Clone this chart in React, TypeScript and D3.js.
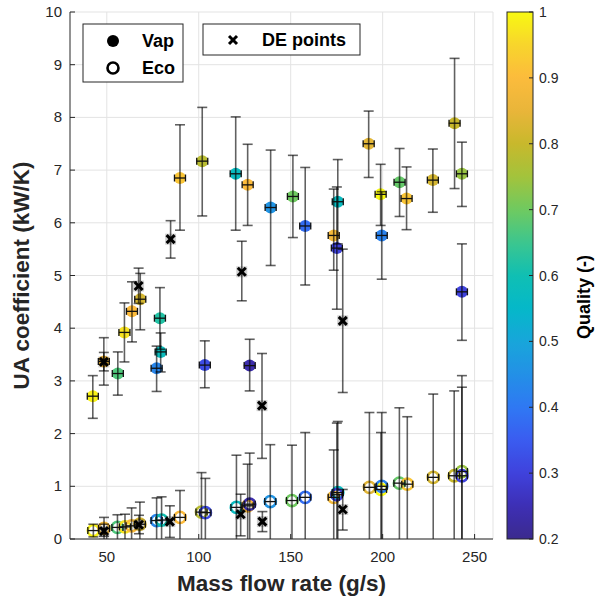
import React from "react";
import * as d3 from "d3";

// ---------- data ----------
const vapFlow = [42.4, 48.4, 56.0, 59.6, 63.7, 68.2, 77.1, 78.9, 79.3, 89.8, 101.9, 103.3, 120.1, 126.6, 127.7, 139.1, 151.2, 157.9, 173.4, 175.6, 175.1, 192.4, 198.9, 199.5, 209.2, 213.0, 227.3, 239.1, 243.1, 243.1];
const vapUA = [2.71, 3.37, 3.14, 3.92, 4.32, 4.55, 3.24, 4.19, 3.55, 6.85, 7.17, 3.30, 6.93, 6.72, 3.29, 6.29, 6.50, 5.94, 5.76, 6.40, 5.52, 7.50, 6.54, 5.76, 6.77, 6.46, 6.81, 7.89, 6.93, 4.69];
const vapLow = [2.29, 3.19, 2.73, 3.36, 3.74, 3.97, 2.80, 3.60, 3.17, 5.86, 6.13, 2.87, 5.86, 5.95, 2.81, 5.19, 5.72, 4.82, 5.10, 5.60, 4.36, 6.86, 5.95, 4.93, 6.12, 5.87, 6.20, 6.65, 6.31, 3.77];
const vapHigh = [3.10, 3.54, 3.55, 4.48, 4.88, 5.04, 3.66, 4.77, 3.91, 7.86, 8.19, 3.76, 8.01, 7.49, 3.79, 7.38, 7.28, 7.05, 6.64, 7.20, 6.68, 8.12, 7.11, 6.59, 7.41, 7.06, 7.40, 9.12, 7.53, 5.60];
const vapQuality = [0.99, 0.88, 0.67, 0.97, 0.9, 0.82, 0.43, 0.62, 0.58, 0.92, 0.78, 0.32, 0.57, 0.9, 0.24, 0.46, 0.7, 0.38, 0.88, 0.57, 0.3, 0.84, 1.0, 0.42, 0.69, 0.92, 0.82, 0.8, 0.74, 0.3];

const ecoFlow = [42.7, 48.5, 55.8, 59.9, 63.5, 68.0, 77.1, 79.8, 89.8, 101.5, 103.6, 120.5, 126.6, 127.7, 138.9, 150.7, 157.9, 173.4, 175.6, 175.1, 192.8, 199.1, 199.5, 209.1, 213.4, 227.5, 238.9, 243.1, 243.1];
const ecoUA = [0.16, 0.20, 0.22, 0.23, 0.25, 0.28, 0.35, 0.36, 0.41, 0.51, 0.50, 0.60, 0.63, 0.66, 0.71, 0.73, 0.79, 0.79, 0.88, 0.84, 0.98, 0.94, 1.00, 1.06, 1.04, 1.17, 1.20, 1.28, 1.20];
const ecoLow = [0.04, -0.01, -0.02, -0.01, -0.09, -0.14, -0.08, -0.08, -0.10, -0.24, -0.15, -0.39, -0.16, -0.31, -0.37, -0.32, -0.44, -0.11, -0.47, -0.52, -0.44, -0.14, -0.40, -0.37, -0.24, -0.41, -0.41, -0.54, -0.48];
const ecoHigh = [0.28, 0.41, 0.46, 0.47, 0.59, 0.70, 0.78, 0.80, 0.92, 1.26, 1.15, 1.59, 1.42, 1.63, 1.79, 1.78, 2.02, 1.69, 2.23, 2.20, 2.40, 2.02, 2.40, 2.49, 2.32, 2.75, 2.81, 3.10, 2.88];
const ecoQuality = [0.99, 0.88, 0.67, 0.97, 0.9, 0.82, 0.43, 0.6, 0.9, 0.78, 0.32, 0.57, 0.9, 0.24, 0.46, 0.7, 0.38, 0.88, 0.57, 0.3, 0.84, 1.0, 0.42, 0.69, 0.92, 0.82, 0.8, 0.74, 0.3];

const deFlow = [48.4, 67.3, 84.7, 123.4, 134.4, 178.3, 48.5, 67.5, 84.3, 122.8, 134.6, 178.3];
const deUA = [3.36, 4.80, 5.69, 5.07, 2.53, 4.14, 0.15, 0.27, 0.33, 0.47, 0.33, 0.56];
const deLow = [2.92, 4.47, 5.33, 4.52, 1.53, 2.78, 0.05, 0.10, 0.03, 0.06, 0.14, 0.17];
const deHigh = [3.82, 5.14, 6.04, 5.65, 3.52, 5.50, 0.28, 0.45, 0.63, 0.85, 0.52, 0.94];

const flowErr = 3;

const xTicks = [50, 100, 150, 200, 250];
const yTicks = [0, 1, 2, 3, 4, 5, 6, 7, 8, 9, 10];
const cTicks = [0.2, 0.3, 0.4, 0.5, 0.6, 0.7, 0.8, 0.9, 1];

const cmapStops = [0.2, 0.25, 0.3, 0.35, 0.4, 0.45, 0.5, 0.55, 0.6, 0.65, 0.7, 0.75, 0.8, 0.85, 0.9, 0.95, 1.0];
const cmapColors = ["#3b2a8e", "#3d2fb5", "#3f42dc", "#3a5cf0", "#2f78f3", "#2390e6", "#18a6da", "#05b8c9", "#10bfb3", "#3cc68f", "#6fca60", "#a3c33c", "#c8b82c", "#e9b53a", "#fcbb3c", "#f8d52c", "#f8f912"];

// ---------- layout ----------
const W = 603, H = 600;
const L = 70, R = 493, T = 12, B = 539;
const cbL = 507, cbR = 533;
const FONT = "'Liberation Sans', Arial, Helvetica, sans-serif";
const AX = "#262626";

export default function App() {
  const x = d3.scaleLinear().domain([30, 260]).range([L, R]);
  const y = d3.scaleLinear().domain([0, 10]).range([B, T]);
  const cy = d3.scaleLinear().domain([0.2, 1]).range([B, T]);
  const cmap = d3.scaleLinear<string>().domain(cmapStops).range(cmapColors).interpolate(d3.interpolateRgb).clamp(true);

  const gradStops = d3.range(0, 101).map((i) => {
    const q = 0.2 + (0.8 * i) / 100;
    return <stop key={i} offset={`${i}%`} stopColor={cmap(q)} />;
  });

  const errColor = "rgba(0,0,0,0.62)";

  const vBar = (fx: number, lo: number, hi: number, key: string) => (
    <g key={key} stroke={errColor} strokeWidth={1.6} fill="none">
      <line x1={x(fx)} x2={x(fx)} y1={y(lo)} y2={y(hi)} />
      <line x1={x(fx) - 5} x2={x(fx) + 5} y1={y(lo)} y2={y(lo)} />
      <line x1={x(fx) - 5} x2={x(fx) + 5} y1={y(hi)} y2={y(hi)} />
    </g>
  );
  const hBar = (fx: number, v: number, key: string) => (
    <g key={key} stroke="#111" strokeWidth={1.3} fill="none">
      <line x1={x(fx - flowErr)} x2={x(fx + flowErr)} y1={y(v)} y2={y(v)} />
      <line x1={x(fx - flowErr)} x2={x(fx - flowErr)} y1={y(v) - 3.5} y2={y(v) + 3.5} />
      <line x1={x(fx + flowErr)} x2={x(fx + flowErr)} y1={y(v) - 3.5} y2={y(v) + 3.5} />
    </g>
  );

  return (
    <svg width={W} height={H} style={{ position: "absolute", left: 0, top: 0, background: "#fff" }} fontFamily={FONT}>
      <defs>
        <clipPath id="plotclip">
          <rect x={L} y={T} width={R - L} height={B - T} />
        </clipPath>
        <linearGradient id="cbar" x1="0" y1="1" x2="0" y2="0">
          {gradStops}
        </linearGradient>
      </defs>

      {/* grid */}
      <g stroke="#e3e3e3" strokeWidth={1}>
        {xTicks.map((t) => (
          <line key={"gx" + t} x1={x(t)} x2={x(t)} y1={T} y2={B} />
        ))}
        {yTicks.map((t) => (
          <line key={"gy" + t} x1={L} x2={R} y1={y(t)} y2={y(t)} />
        ))}
        <line x1={R} x2={R} y1={T} y2={B} />
      </g>

      <g clipPath="url(#plotclip)">
        {/* markers */}
        {ecoFlow.map((f, i) => (
          <circle key={"ec" + i} cx={x(f)} cy={y(ecoUA[i])} r={5.6} fill="none" stroke={cmap(ecoQuality[i])} strokeWidth={2.6} />
        ))}
        {vapFlow.map((f, i) => (
          <circle key={"vc" + i} cx={x(f)} cy={y(vapUA[i])} r={6} fill={cmap(vapQuality[i])} />
        ))}
        {/* error bars */}
        {ecoFlow.map((f, i) => vBar(f, ecoLow[i], ecoHigh[i], "ev" + i))}
        {ecoFlow.map((f, i) => hBar(f, ecoUA[i], "eh" + i))}
        {vapFlow.map((f, i) => vBar(f, vapLow[i], vapHigh[i], "vv" + i))}
        {vapFlow.map((f, i) => hBar(f, vapUA[i], "vh" + i))}
        {/* DE points */}
        {deFlow.map((f, i) => vBar(f, deLow[i], deHigh[i], "dv" + i))}
        {deFlow.map((f, i) => (
          <g key={"dm" + i}>
            <rect x={x(f) - 5.5} y={y(deUA[i]) - 5.5} width={11} height={11} fill="rgba(0,0,0,0.18)" />
            <g stroke="#000" strokeWidth={3}>
              <line x1={x(f) - 4} x2={x(f) + 4} y1={y(deUA[i]) - 4} y2={y(deUA[i]) + 4} />
              <line x1={x(f) - 4} x2={x(f) + 4} y1={y(deUA[i]) + 4} y2={y(deUA[i]) - 4} />
            </g>
          </g>
        ))}
      </g>

      {/* axes */}
      <g stroke={AX} strokeWidth={1}>
        <line x1={L} x2={L} y1={T} y2={B} />
        <line x1={L} x2={R} y1={B} y2={B} />
        {xTicks.map((t) => (
          <line key={"xt" + t} x1={x(t)} x2={x(t)} y1={B} y2={B - 5} />
        ))}
        {yTicks.map((t) => (
          <line key={"yt" + t} x1={L} x2={L + 5} y1={y(t)} y2={y(t)} />
        ))}
      </g>
      <g fill={AX} fontSize={15}>
        {xTicks.map((t) => (
          <text key={"xl" + t} x={x(t)} y={B + 23} textAnchor="middle">
            {t}
          </text>
        ))}
        {yTicks.map((t) => (
          <text key={"yl" + t} x={L - 8} y={y(t) + 5} textAnchor="end">
            {t}
          </text>
        ))}
      </g>
      <text x={(L + R) / 2} y={591} textAnchor="middle" fontSize={22.5} fontWeight="bold" fill={AX}>
        Mass flow rate (g/s)
      </text>
      <text transform={`translate(29, ${(T + B) / 2}) rotate(-90)`} textAnchor="middle" fontSize={22.5} fontWeight="bold" fill={AX}>
        UA coefficient (kW/K)
      </text>

      {/* legends */}
      <g>
        <rect x={83} y={24} width={100} height={58} fill="#fff" stroke={AX} strokeWidth={1} />
        <circle cx={113} cy={41} r={6} fill="#000" />
        <circle cx={113} cy={68} r={5.5} fill="none" stroke="#000" strokeWidth={2.6} />
        <text x={142} y={47} fontSize={18} fontWeight="bold" fill="#000">Vap</text>
        <text x={142} y={74} fontSize={18} fontWeight="bold" fill="#000">Eco</text>
        <rect x={203} y={24} width={157} height={31} fill="#fff" stroke={AX} strokeWidth={1} />
        <g stroke="#000" strokeWidth={3}>
          <line x1={229} x2={237} y1={36} y2={44} />
          <line x1={229} x2={237} y1={44} y2={36} />
        </g>
        <text x={262} y={46} fontSize={18} fontWeight="bold" fill="#000">DE points</text>
      </g>

      {/* colorbar */}
      <rect x={cbL} y={T} width={cbR - cbL} height={B - T} fill="url(#cbar)" stroke={AX} strokeWidth={1} />
      <g stroke={AX} strokeWidth={1}>
        {cTicks.map((t) => (
          <line key={"ct" + t} x1={cbR} x2={cbR - 4} y1={cy(t)} y2={cy(t)} />
        ))}
      </g>
      <g fill={AX} fontSize={14}>
        {cTicks.map((t) => (
          <text key={"cl" + t} x={cbR + 6} y={cy(t) + 5}>
            {t === 1 ? "1" : t.toFixed(1)}
          </text>
        ))}
      </g>
      <text transform={`translate(590, 297) rotate(-90)`} textAnchor="middle" fontSize={18} fontWeight="bold" fill="#000">
        Quality (-)
      </text>
    </svg>
  );
}
